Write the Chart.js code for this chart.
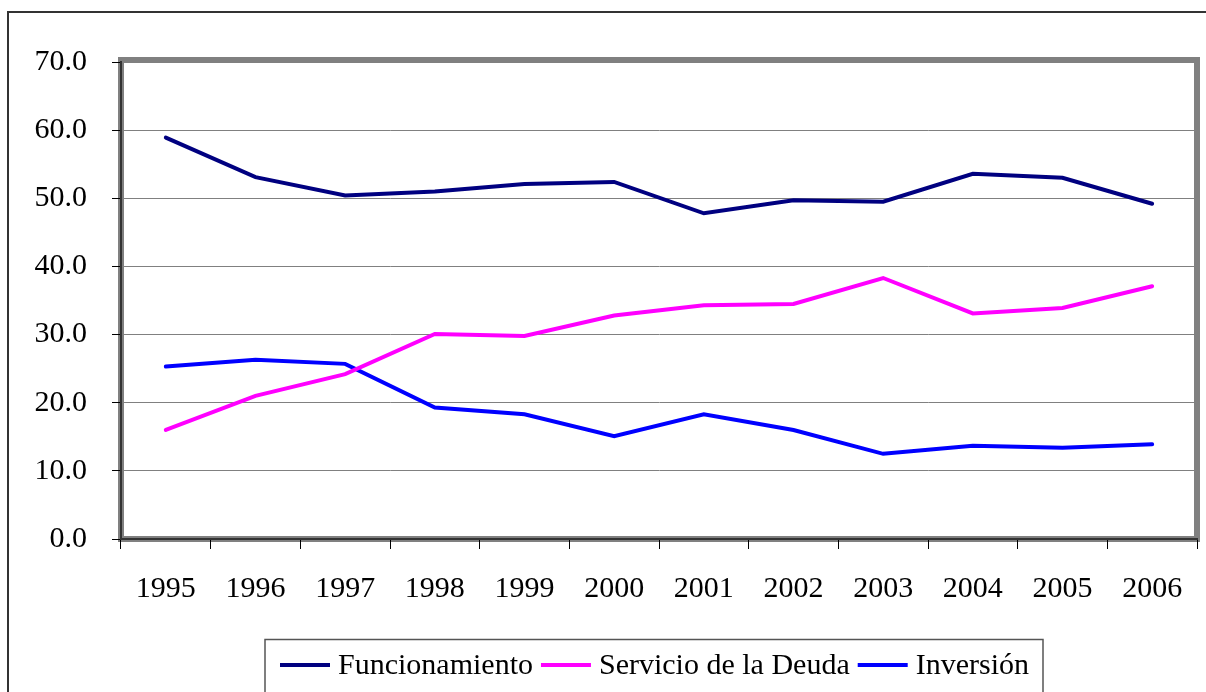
<!DOCTYPE html>
<html>
<head>
<meta charset="utf-8">
<script src="https://cdn.jsdelivr.net/npm/chart.js@4"></script>
<style>
  body { margin: 0; background: #fff; }
  #wrap { width: 1206px; height: 692px; }
</style>
</head>
<body>
<div id="wrap"><canvas id="lineChart" width="1206" height="692"></canvas></div>
<script>
const years = ['1995', '1996', '1997', '1998', '1999', '2000', '2001', '2002', '2003', '2004', '2005', '2006'];
const funcionamiento = [58.9, 53.1, 50.4, 51.0, 52.1, 52.4, 47.8, 49.7, 49.5, 53.6, 53.0, 49.2];
const servicioDeuda = [16.0, 21.0, 24.2, 30.1, 29.8, 32.8, 34.3, 34.5, 38.3, 33.1, 33.9, 37.1];
const inversion = [25.3, 26.3, 25.7, 19.3, 18.3, 15.1, 18.3, 16.0, 12.5, 13.7, 13.4, 13.9];

const serif = "'Liberation Serif', 'Times New Roman', serif";

// outer frame + grey plot-area frame (drawn before the scales)
const frames = {
  id: 'frames',
  beforeDraw(chart) {
    const ctx = chart.ctx;
    const a = chart.chartArea;
    ctx.save();
    ctx.strokeStyle = '#333';
    ctx.lineWidth = 2;
    ctx.strokeRect(8, 12, 1400, 1000);
    ctx.strokeStyle = '#808080';
    ctx.lineWidth = 6;
    ctx.strokeRect(a.left, a.top - 2, a.right - a.left, a.bottom - a.top + 2);
    ctx.restore();
  }
};

// legend in a box under the axis
const boxLegend = {
  id: 'boxLegend',
  afterDraw(chart) {
    const ctx = chart.ctx;
    ctx.save();
    ctx.font = '30px ' + serif;
    ctx.textBaseline = 'middle';
    const y = 665;
    let x = 280;
    chart.data.datasets.forEach(ds => {
      ctx.strokeStyle = ds.borderColor;
      ctx.lineWidth = 4;
      ctx.beginPath();
      ctx.moveTo(x, y);
      ctx.lineTo(x + 50, y);
      ctx.stroke();
      x += 58;
      ctx.fillStyle = '#000';
      ctx.fillText(ds.label, x, y + 1);
      x += ctx.measureText(ds.label).width + 8;
    });
    ctx.strokeStyle = '#555';
    ctx.lineWidth = 1.5;
    ctx.strokeRect(265, 639.5, 778, 60);
    ctx.restore();
  }
};

new Chart(document.getElementById('lineChart').getContext('2d'), {
  type: 'line',
  data: {
    labels: years,
    datasets: [
      { label: 'Funcionamiento', data: funcionamiento, borderColor: '#000080' },
      { label: 'Servicio de la Deuda', data: servicioDeuda, borderColor: '#ff00ff' },
      { label: 'Inversión', data: inversion, borderColor: '#0000ff' }
    ]
  },
  options: {
    responsive: false,
    animation: false,
    elements: {
      line: { borderWidth: 4, tension: 0, borderCapStyle: 'round' },
      point: { radius: 0 }
    },
    layout: { padding: { top: 62, right: 9, left: 0, bottom: 0 } },
    plugins: {
      legend: { display: false },
      tooltip: { enabled: false }
    },
    scales: {
      x: {
        offset: true,
        grid: { offset: true, drawOnChartArea: false, tickLength: 10, tickColor: '#000' },
        border: { color: '#333', width: 2 },
        ticks: { color: '#000', font: { family: serif, size: 30 }, padding: 22, maxRotation: 0 },
        afterFit(scale) { scale.height = 153; }
      },
      y: {
        min: 0,
        max: 70,
        grid: { color: '#808080', lineWidth: 1, tickLength: 9, tickColor: '#000' },
        border: { color: '#333', width: 2 },
        ticks: {
          stepSize: 10,
          color: '#000',
          font: { family: serif, size: 30 },
          padding: 25,
          callback: v => v.toFixed(1)
        },
        afterFit(scale) { scale.width = 121; }
      }
    }
  },
  plugins: [frames, boxLegend]
});
</script>
</body>
</html>
